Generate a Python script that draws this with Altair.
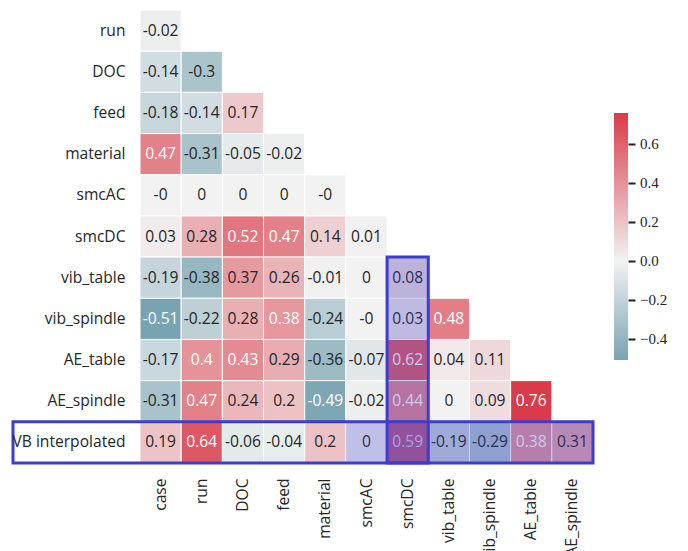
import altair as alt
import pandas as pd

# ---------------- data ----------------
rows = ["run", "DOC", "feed", "material", "smcAC", "smcDC", "vib_table",
        "vib_spindle", "AE_table", "AE_spindle", "VB interpolated"]
cols = ["case", "run", "DOC", "feed", "material", "smcAC", "smcDC",
        "vib_table", "vib_spindle", "AE_table", "AE_spindle"]

r_run = ["-0.02"]
r_doc = ["-0.14", "-0.3"]
r_feed = ["-0.18", "-0.14", "0.17"]
r_material = ["0.47", "-0.31", "-0.05", "-0.02"]
r_smcac = ["-0", "0", "0", "0", "-0"]
r_smcdc = ["0.03", "0.28", "0.52", "0.47", "0.14", "0.01"]
r_vib_table = ["-0.19", "-0.38", "0.37", "0.26", "-0.01", "0", "0.08"]
r_vib_spindle = ["-0.51", "-0.22", "0.28", "0.38", "-0.24", "-0", "0.03", "0.48"]
r_ae_table = ["-0.17", "0.4", "0.43", "0.29", "-0.36", "-0.07", "0.62", "0.04", "0.11"]
r_ae_spindle = ["-0.31", "0.47", "0.24", "0.2", "-0.49", "-0.02", "0.44", "0", "0.09", "0.76"]
r_vb = ["0.19", "0.64", "-0.06", "-0.04", "0.2", "0", "0.59", "-0.19", "-0.29", "0.38", "0.31"]
row_values = [r_run, r_doc, r_feed, r_material, r_smcac, r_smcdc, r_vib_table,
              r_vib_spindle, r_ae_table, r_ae_spindle, r_vb]

cbar_min, cbar_max = -0.51, 0.76
cbar_ticks = [-0.4, -0.2, 0.0, 0.2, 0.4, 0.6]

hl_col, hl_col_from = "smcDC", "vib_table"
hl_row, hl_row_from = "VB interpolated", "smcAC"

# ---------------- styles ----------------
C_LO, C_MID, C_HI = "#78a4b2", "#f2f2f2", "#da3b48"
HL = "#3c3ccd"
TXT = "#262626"
FONT = "Open Sans"
SERIF = "Liberation Serif"
FS = 15.6
W = H = 453

records = []
for r, vals in zip(rows, row_values):
    for c, s in zip(cols, vals):
        records.append({
            "row": r, "col": c, "label": s, "v": float(s),
            "hv": c == hl_col and rows.index(r) >= rows.index(hl_col_from),
            "hh": r == hl_row and cols.index(c) >= cols.index(hl_row_from),
        })
df = pd.DataFrame(records)

xs = alt.Scale(domain=cols, paddingInner=0, paddingOuter=0)
ys = alt.Scale(domain=rows, paddingInner=0, paddingOuter=0)


def X(f, **kw):
    return alt.X(f, scale=xs, title=None, **kw)


def Y(f, **kw):
    return alt.Y(f, scale=ys, title=None, **kw)


color_scale = alt.Scale(domain=[cbar_min, 0, cbar_max], range=[C_LO, C_MID, C_HI],
                        interpolate="rgb")

base = alt.Chart(df)

cells = base.mark_rect(stroke="white", strokeWidth=1).encode(
    x=X("col:N", axis=alt.Axis(labelAngle=270, labelPadding=15, ticks=False, domain=False,
                               labelFont=FONT, labelFontSize=FS, labelColor=TXT)),
    y=Y("row:N", axis=alt.Axis(labelPadding=15, ticks=False, domain=False,
                               labelFont=FONT, labelFontSize=FS, labelColor=TXT)),
    color=alt.Color("v:Q", scale=color_scale, legend=None),
)

texts = base.mark_text(font=FONT, fontSize=FS, align="center", baseline="middle").encode(
    x=X("col:N"), y=Y("row:N"), text="label:N",
    color=alt.condition("datum.v >= 0.375 || datum.v <= -0.45",
                        alt.value("white"), alt.value(TXT)),
)

ov_v = base.transform_filter("datum.hv").mark_rect(fill=HL, opacity=0.28).encode(
    x=X("col:N"), y=Y("row:N"))
ov_h = base.transform_filter("datum.hh").mark_rect(fill=HL, opacity=0.28).encode(
    x=X("col:N"), y=Y("row:N"))

vb_df = pd.DataFrame([{"c": hl_col, "r0": hl_col_from, "r1": rows[-1]}])
border_v = alt.Chart(vb_df).mark_rect(filled=False, stroke=HL, strokeWidth=3).encode(
    x=X("c:N"),
    y=Y("r0:N", bandPosition=0),
    y2=alt.Y2("r1:N", bandPosition=1),
)

hb_df = pd.DataFrame([{"r": hl_row, "c0": cols[0], "c1": cols[-1]}])
border_h = alt.Chart(hb_df).mark_rect(filled=False, stroke=HL, strokeWidth=3,
                                      xOffset=-127).encode(
    x=X("c0:N", bandPosition=0),
    x2=alt.X2("c1:N", bandPosition=1),
    y=Y("r:N"),
)

# ---------------- colorbar ----------------
cb_scale = alt.Scale(domain=[cbar_min, cbar_max], range=[350, 103], nice=False, zero=False)
cb_df = pd.DataFrame([{"lo": cbar_min, "hi": cbar_max}])
z = (0 - cbar_min) / (cbar_max - cbar_min)
grad = alt.Gradient(gradient="linear", x1=0, x2=0, y1=1, y2=0,
                    stops=[alt.GradientStop(color=C_LO, offset=0),
                           alt.GradientStop(color=C_MID, offset=z),
                           alt.GradientStop(color=C_HI, offset=1)])
cb_axis = alt.Axis(orient="right", offset=35, values=cbar_ticks, domain=False, grid=False,
                   tickSize=7, tickWidth=2, tickColor="#222222", labels=False)
cbar = alt.Chart(cb_df).mark_rect(fill=grad).encode(
    x=alt.value(474), x2=alt.value(488),
    y=alt.Y("lo:Q", title=None, scale=cb_scale, axis=cb_axis),
    y2="hi:Q",
)
tick_df = pd.DataFrame({"t": cbar_ticks})
cb_labels = alt.Chart(tick_df).transform_calculate(
    txt="replace(format(datum.t, '.1f'), '-', '\u2212')"
).mark_text(font=SERIF, fontSize=15, align="left", baseline="middle", color="#222222").encode(
    x=alt.value(500),
    y=alt.Y("t:Q", title=None, scale=cb_scale, axis=cb_axis),
    text="txt:N",
)
cb_group = alt.layer(cbar, cb_labels)

heat = alt.layer(cells, texts, ov_v, ov_h, border_v, border_h)
chart = alt.layer(heat, cb_group).resolve_scale(y="independent").properties(
    width=W, height=H,
    padding={"left": 132, "top": 2, "right": 80, "bottom": 100},
    autosize=alt.AutoSizeParams(type="none"),
).configure_view(stroke=None)

chart.save("out.html", embed_options={"renderer": "svg", "actions": False})
